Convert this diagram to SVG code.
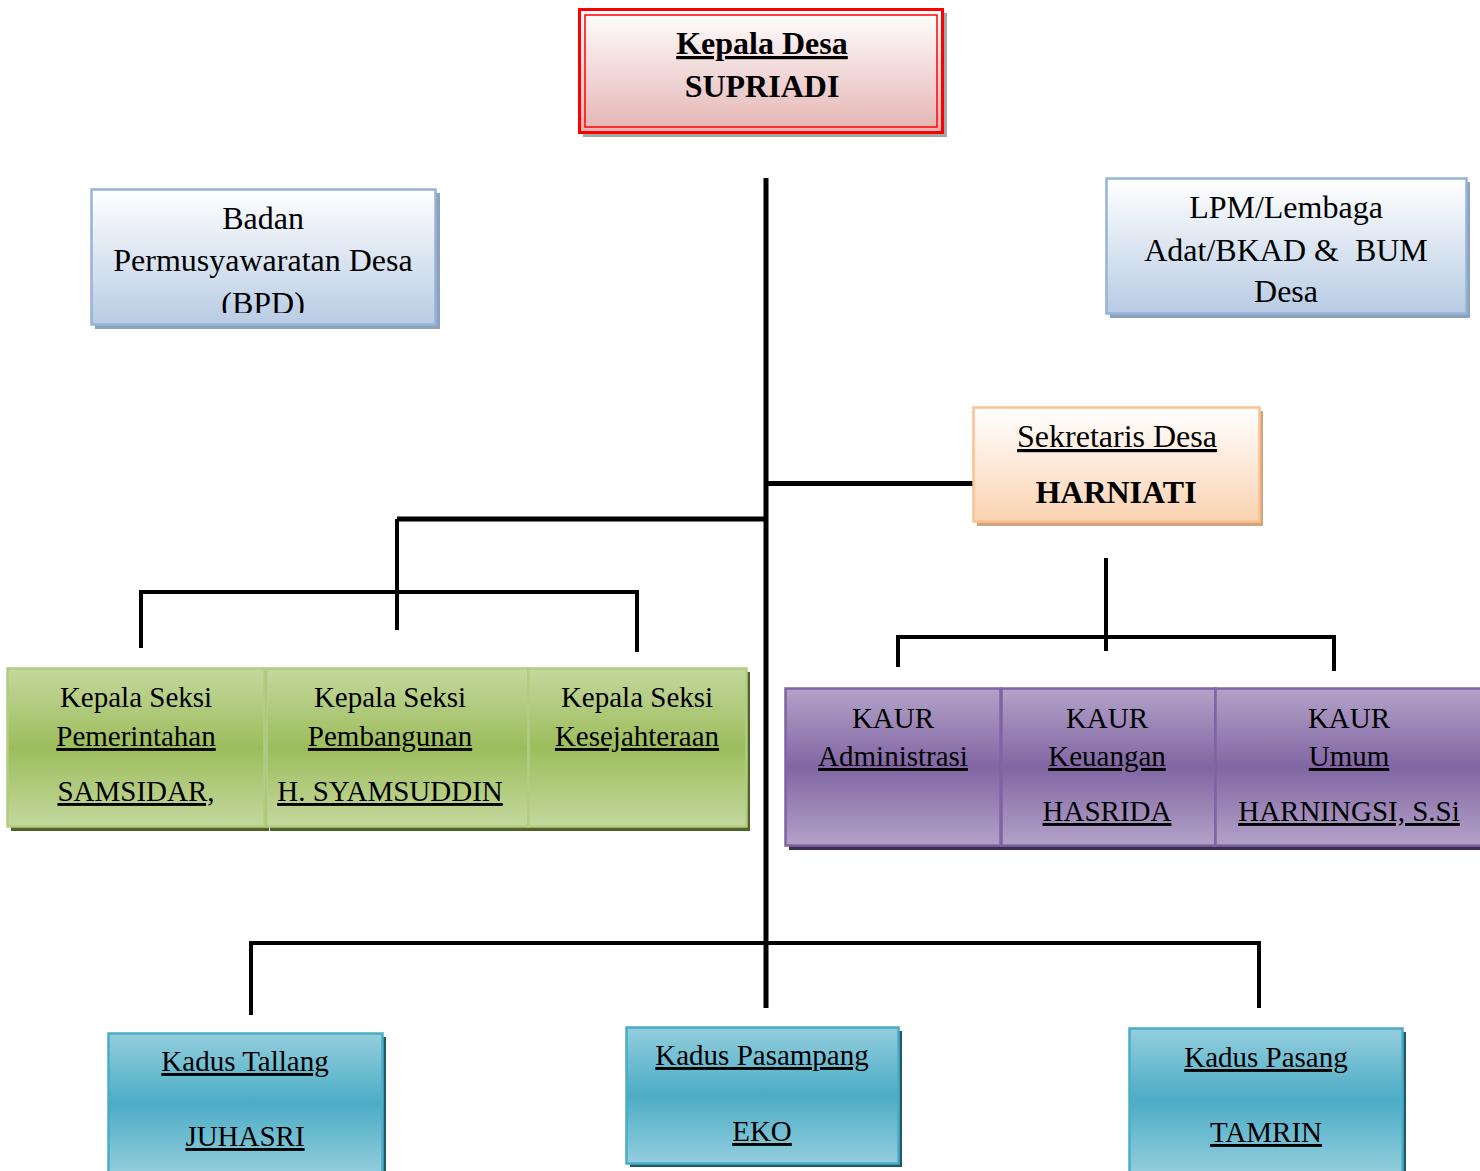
<svg xmlns="http://www.w3.org/2000/svg" width="1480" height="1171" viewBox="0 0 1480 1171">
<defs>
<linearGradient id="gPink" x1="0" y1="0" x2="0" y2="1"><stop offset="0" stop-color="#ffffff"/><stop offset="1" stop-color="#e4b4b3"/></linearGradient>
<linearGradient id="gBlue" x1="0" y1="0" x2="0" y2="1"><stop offset="0" stop-color="#ffffff"/><stop offset="1" stop-color="#b8cce4"/></linearGradient>
<linearGradient id="gPeach" x1="0" y1="0" x2="0" y2="1"><stop offset="0" stop-color="#ffffff"/><stop offset="1" stop-color="#fbd3b2"/></linearGradient>
<linearGradient id="gGreen" x1="0" y1="0" x2="0" y2="1"><stop offset="0" stop-color="#c4d89e"/><stop offset="0.5" stop-color="#9dbd5c"/><stop offset="1" stop-color="#c4d89e"/></linearGradient>
<linearGradient id="gPurple" x1="0" y1="0" x2="0" y2="1"><stop offset="0" stop-color="#b3a2c8"/><stop offset="0.5" stop-color="#8166a3"/><stop offset="1" stop-color="#b3a2c8"/></linearGradient>
<linearGradient id="gCyan" x1="0" y1="0" x2="0" y2="1"><stop offset="0" stop-color="#93cedd"/><stop offset="0.5" stop-color="#4cacc6"/><stop offset="1" stop-color="#93cedd"/></linearGradient>
<clipPath id="clipBPD"><rect x="93" y="191" width="342" height="122"/></clipPath>
</defs>
<style>
text{font-family:"Liberation Serif","Times New Roman",serif;fill:#000;text-anchor:middle}
.t{font-size:29px}
.l{font-size:32px}
.b{font-weight:bold}
.u{text-decoration:underline}
.conn line{stroke:#000;stroke-width:4;stroke-linecap:butt}
.conn .main{stroke-width:5}
</style>
<rect x="0" y="0" width="1480" height="1171" fill="#ffffff"/>

<g class="conn" id="connectors">
<line class="main" x1="766" y1="178" x2="766" y2="1008"/>
<line class="main" x1="766" y1="483.5" x2="974" y2="483.5"/>
<line class="main" x1="397" y1="519" x2="766" y2="519"/>
<line x1="397" y1="519" x2="397" y2="630"/>
<line x1="141" y1="592" x2="637" y2="592"/>
<line x1="141" y1="590" x2="141" y2="648"/>
<line x1="637" y1="590" x2="637" y2="652"/>
<line x1="1106" y1="558" x2="1106" y2="651"/>
<line x1="897" y1="637" x2="1335" y2="637"/>
<line x1="898" y1="635" x2="898" y2="667"/>
<line x1="1334" y1="635" x2="1334" y2="671"/>
<line x1="249" y1="943" x2="1261" y2="943"/>
<line x1="251" y1="941" x2="251" y2="1015"/>
<line x1="1259" y1="941" x2="1259" y2="1008"/>
</g>

<g id="kepala-desa">
<rect x="583" y="13" width="364" height="124" fill="#a6a6a6"/>
<rect x="579.5" y="9.5" width="363" height="123" fill="url(#gPink)" stroke="#ff0000" stroke-width="3"/>
<rect x="585" y="15" width="352" height="112" fill="none" stroke="#ff0000" stroke-width="1.5"/>
<text x="762" y="54" class="b u" font-size="32">Kepala Desa</text>
<text x="762" y="97" class="b" font-size="32">SUPRIADI</text>
</g>

<g id="bpd">
<rect x="95" y="193" width="345" height="136" fill="#8ea1bb"/>
<rect x="91.5" y="189.5" width="344" height="135" fill="url(#gBlue)" stroke="#95b3d7" stroke-width="2.5"/>
<g clip-path="url(#clipBPD)">
<text x="263" y="229" class="l">Badan</text>
<text x="263" y="271" class="l">Permusyawaratan Desa</text>
<text x="263" y="314" class="l">(BPD)</text>
</g>
</g>

<g id="lpm">
<rect x="1110" y="182" width="360" height="136" fill="#8ea1bb"/>
<rect x="1106.5" y="178.5" width="360" height="135" fill="url(#gBlue)" stroke="#95b3d7" stroke-width="2.5"/>
<text x="1286" y="218" class="l">LPM/Lembaga</text>
<text x="1286" y="261" class="l" xml:space="preserve">Adat/BKAD &amp;  BUM</text>
<text x="1286" y="302" class="l">Desa</text>
</g>

<g id="sekretaris">
<rect x="977" y="411" width="286" height="115" fill="#d3a37e"/>
<rect x="973.5" y="407.5" width="286" height="114" fill="url(#gPeach)" stroke="#fac28f" stroke-width="2.5"/>
<text x="1117" y="447" class="l u">Sekretaris Desa</text>
<text x="1116" y="503" class="l b" font-size="32.5">HARNIATI</text>
</g>

<g id="kasi-pemerintahan">
<rect x="11" y="672" width="258" height="159" fill="#4f6228"/>
<rect x="7.5" y="668.5" width="257" height="158" fill="url(#gGreen)" stroke="#b3cc82" stroke-width="2.5"/>
<text x="136" y="707" class="t">Kepala Seksi</text>
<text x="136" y="746" class="t u">Pemerintahan</text>
<text x="136" y="801" class="t u">SAMSIDAR,</text>
</g>

<g id="kasi-pembangunan">
<rect x="270" y="672" width="262" height="159" fill="#4f6228"/>
<rect x="266.5" y="668.5" width="262" height="158" fill="url(#gGreen)" stroke="#b3cc82" stroke-width="2.5"/>
<text x="390" y="707" class="t">Kepala Seksi</text>
<text x="390" y="746" class="t u">Pembangunan</text>
<text x="390" y="801" class="t u" font-size="30">H. SYAMSUDDIN</text>
</g>

<g id="kasi-kesejahteraan">
<rect x="532" y="672" width="218" height="159" fill="#4f6228"/>
<rect x="528.5" y="668.5" width="218" height="158" fill="url(#gGreen)" stroke="#b3cc82" stroke-width="2.5"/>
<text x="637" y="707" class="t">Kepala Seksi</text>
<text x="637" y="746" class="t u">Kesejahteraan</text>
</g>

<g id="kaur-administrasi">
<rect x="789" y="692" width="216" height="158" fill="#3f3151"/>
<rect x="785.5" y="688.5" width="215" height="157" fill="url(#gPurple)" stroke="#8064a2" stroke-width="2.5"/>
<text x="893" y="728" class="t">KAUR</text>
<text x="893" y="766" class="t u">Administrasi</text>
</g>

<g id="kaur-keuangan">
<rect x="1005" y="692" width="214" height="158" fill="#3f3151"/>
<rect x="1001.5" y="688.5" width="214" height="157" fill="url(#gPurple)" stroke="#8064a2" stroke-width="2.5"/>
<text x="1107" y="728" class="t">KAUR</text>
<text x="1107" y="766" class="t u">Keuangan</text>
<text x="1107" y="821" class="t u">HASRIDA</text>
</g>

<g id="kaur-umum">
<rect x="1219" y="692" width="270" height="158" fill="#3f3151"/>
<rect x="1215.5" y="688.5" width="270" height="157" fill="url(#gPurple)" stroke="#8064a2" stroke-width="2.5"/>
<text x="1349" y="728" class="t">KAUR</text>
<text x="1349" y="766" class="t u">Umum</text>
<text x="1349" y="821" class="t u">HARNINGSI, S.Si</text>
</g>

<g id="kadus-tallang">
<rect x="112" y="1037" width="274" height="140" fill="#215968"/>
<rect x="108.5" y="1033.5" width="274" height="140" fill="url(#gCyan)" stroke="#4bacc6" stroke-width="2.5"/>
<text x="245" y="1071" class="t u">Kadus Tallang</text>
<text x="245" y="1146" class="t u">JUHASRI</text>
</g>

<g id="kadus-pasampang">
<rect x="630" y="1031" width="272" height="136" fill="#215968"/>
<rect x="626.5" y="1027.5" width="272" height="136" fill="url(#gCyan)" stroke="#4bacc6" stroke-width="2.5"/>
<text x="762" y="1065" class="t u">Kadus Pasampang</text>
<text x="762" y="1141" class="t u">EKO</text>
</g>

<g id="kadus-pasang">
<rect x="1133" y="1032" width="273" height="145" fill="#215968"/>
<rect x="1129.5" y="1028.5" width="273" height="145" fill="url(#gCyan)" stroke="#4bacc6" stroke-width="2.5"/>
<text x="1266" y="1067" class="t u">Kadus Pasang</text>
<text x="1266" y="1142" class="t u">TAMRIN</text>
</g>
</svg>
